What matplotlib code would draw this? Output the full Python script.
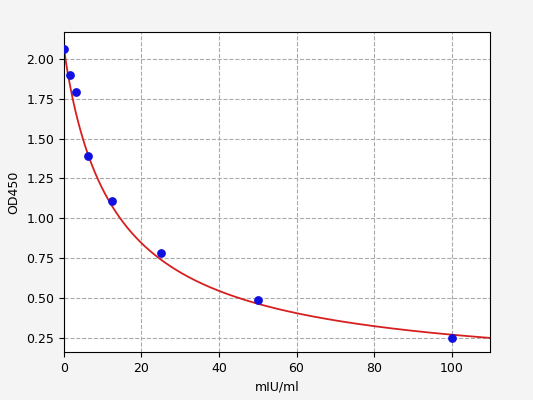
import numpy as np
import matplotlib
matplotlib.use("Agg")
import matplotlib.pyplot as plt

conc = [0, 1.56, 3.12, 6.25, 12.5, 25, 50, 100]
od = [2.065, 1.90, 1.79, 1.39, 1.11, 0.78, 0.485, 0.25]
# 4PL curve parameters (estimated)
A, B, C, D = 2.07, 0.95, 13.5, 0.0

fig = plt.figure(figsize=(5.33, 4.0), dpi=100, facecolor="#f4f4f4")
ax = fig.add_axes([0.12, 0.12, 0.8, 0.8])
xs = np.linspace(0, 110, 500)
ys = D + (A - D) / (1 + (xs / C) ** B)
ax.plot(xs, ys, color="#d62020", lw=1.3, zorder=2)
ax.scatter(conc, od, color="#1010e0", s=28, zorder=3)
ax.set_xlim(0, 110)
ax.set_ylim(0.16, 2.17)
ax.set_yticks([0.25, 0.5, 0.75, 1.0, 1.25, 1.5, 1.75, 2.0])
ax.set_xticks([0, 20, 40, 60, 80, 100])
ax.grid(True, linestyle="--", color="#aaaaaa", lw=0.8)
ax.set_xlabel("mIU/ml", fontsize=9)
ax.set_ylabel("OD450", fontsize=9)
ax.tick_params(labelsize=9)
fig.savefig("out.png", dpi=100, facecolor=fig.get_facecolor())
